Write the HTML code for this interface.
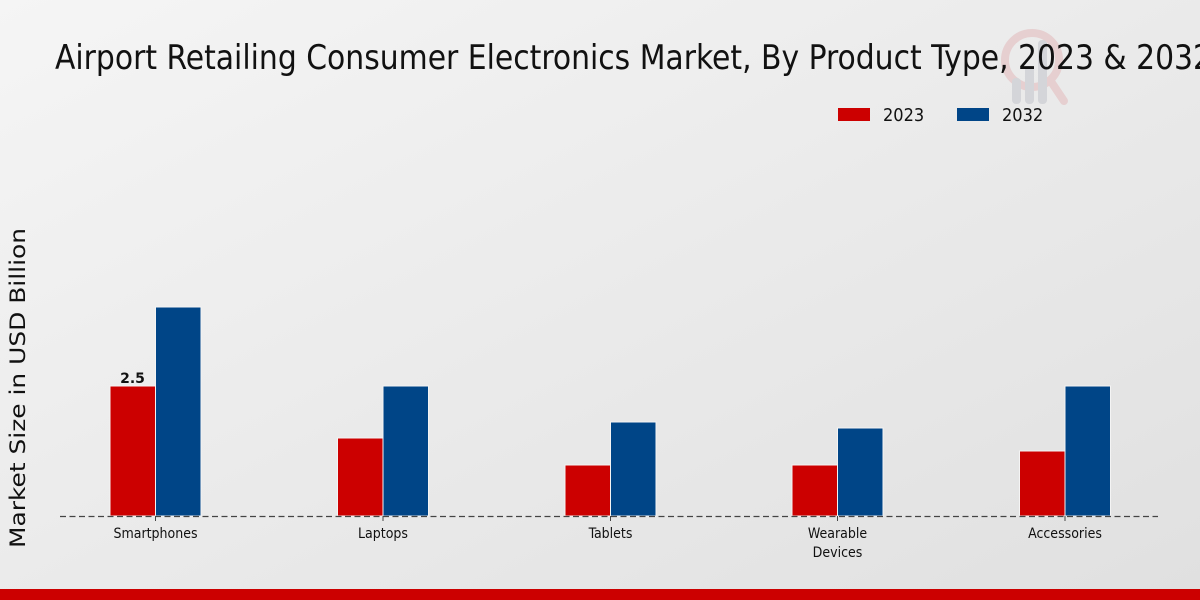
<!DOCTYPE html>
<html><head><meta charset="utf-8"><style>
html,body{margin:0;padding:0;}
body{width:1200px;height:600px;overflow:hidden;}
svg{display:block;}
</style></head><body>
<svg width="1200" height="600" viewBox="0 0 1200 600" xmlns="http://www.w3.org/2000/svg">
<defs>
<linearGradient id="bg" x1="0" y1="0" x2="1" y2="1">
<stop offset="0" stop-color="#f5f5f5"/>
<stop offset="1" stop-color="#e0e0e0"/>
</linearGradient>
</defs>
<rect width="1200" height="600" fill="url(#bg)"/>
<!-- watermark -->
<g>
<circle cx="1032" cy="60" r="27" fill="none" stroke="#e6cfd0" stroke-width="8"/>
<line x1="1050" y1="80" x2="1064" y2="101" stroke="#e6cfd0" stroke-width="8" stroke-linecap="round"/>
<rect x="1012" y="78" width="9" height="26" rx="4" fill="#d4d5d9"/>
<rect x="1025" y="66" width="9" height="38" rx="4" fill="#d4d5d9"/>
<rect x="1038" y="40" width="9" height="64" rx="4" fill="#d4d5d9"/>
</g>
<text x="55" y="69" font-family="'DejaVu Sans Condensed','DejaVu Sans',sans-serif" font-stretch="condensed" font-size="34" fill="#111" textLength="1157" lengthAdjust="spacingAndGlyphs">Airport Retailing Consumer Electronics Market, By Product Type, 2023 &amp; 2032</text>
<!-- legend -->
<rect x="838" y="108" width="32" height="13" fill="#cc0000"/>
<text x="883" y="121" font-family="'DejaVu Sans Condensed','DejaVu Sans',sans-serif" font-stretch="condensed" font-size="18" fill="#111">2023</text>
<rect x="957" y="108" width="32" height="13" fill="#004587"/>
<text x="1002" y="121" font-family="'DejaVu Sans Condensed','DejaVu Sans',sans-serif" font-stretch="condensed" font-size="18" fill="#111">2032</text>
<!-- y label -->
<text transform="translate(25,388) rotate(-90)" text-anchor="middle" font-family="'DejaVu Sans',sans-serif" font-size="21" fill="#111" textLength="320" lengthAdjust="spacingAndGlyphs">Market Size in USD Billion</text>
<!-- bars -->
<g stroke="#f4f4f4" stroke-width="1">
<rect x="110" y="386" width="45.5" height="130" fill="#cc0000"/>
<rect x="155.5" y="307" width="45.5" height="209" fill="#004587"/>
<rect x="337.5" y="438" width="45.5" height="78" fill="#cc0000"/>
<rect x="383" y="386" width="45.5" height="130" fill="#004587"/>
<rect x="565" y="465" width="45.5" height="51" fill="#cc0000"/>
<rect x="610.5" y="422" width="45.5" height="94" fill="#004587"/>
<rect x="792" y="465" width="45.5" height="51" fill="#cc0000"/>
<rect x="837.5" y="428" width="45.5" height="88" fill="#004587"/>
<rect x="1019.5" y="451" width="45.5" height="65" fill="#cc0000"/>
<rect x="1065" y="386" width="45.5" height="130" fill="#004587"/>
</g>
<text x="132.5" y="383" text-anchor="middle" font-family="'DejaVu Sans',sans-serif" font-weight="bold" font-size="14" fill="#111">2.5</text>
<!-- baseline -->
<line x1="60" y1="516.5" x2="1158" y2="516.5" stroke="#444" stroke-width="1.2" stroke-dasharray="6,3.5"/>
<g stroke="#444" stroke-width="1">
<line x1="155.5" y1="516" x2="155.5" y2="521"/>
<line x1="383" y1="516" x2="383" y2="521"/>
<line x1="610.5" y1="516" x2="610.5" y2="521"/>
<line x1="837.5" y1="516" x2="837.5" y2="521"/>
<line x1="1065" y1="516" x2="1065" y2="521"/>
</g>
<g font-family="'DejaVu Sans Condensed','DejaVu Sans',sans-serif" font-stretch="condensed" font-size="14" fill="#111" text-anchor="middle">
<text x="155.5" y="538">Smartphones</text>
<text x="383" y="538">Laptops</text>
<text x="610.5" y="538">Tablets</text>
<text x="837.5" y="538">Wearable</text>
<text x="837.5" y="557">Devices</text>
<text x="1065" y="538">Accessories</text>
</g>
<rect x="0" y="589" width="1200" height="11" fill="#cc0000"/>
</svg>
</body></html>
